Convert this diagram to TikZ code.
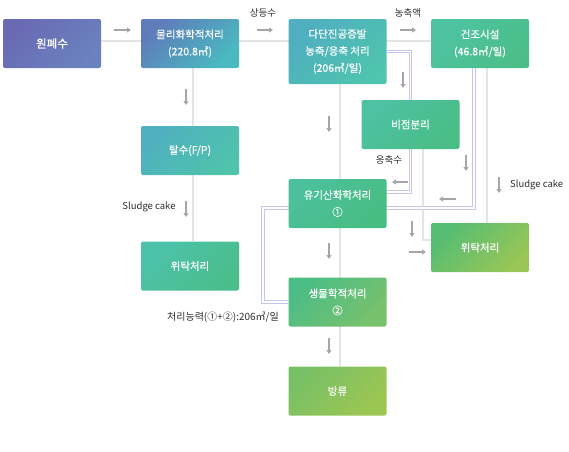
\documentclass[tikz,border=0pt]{standalone}
\usepackage{fontspec}
\setmainfont{Noto Sans CJK KR}
\newfontfamily\boxfont{Noto Sans CJK KR}[FakeBold=0.5]
\usetikzlibrary{calc,arrows.meta,backgrounds}
\definecolor{lgray}{HTML}{E4E4E4}
\definecolor{agray}{HTML}{A6A6A6}
\definecolor{lav}{HTML}{C4C7EA}
\definecolor{txt}{HTML}{2E2E2E}
\definecolor{rawA}{HTML}{6A6AB4}\definecolor{rawB}{HTML}{6A82BE}
\definecolor{physA}{HTML}{5F7CBA}\definecolor{physB}{HTML}{4ABAC0}
\definecolor{evapA}{HTML}{4FAEC0}\definecolor{evapB}{HTML}{4FC4AE}
\definecolor{dryA}{HTML}{4EC3A2}\definecolor{dryB}{HTML}{4BBE88}
\definecolor{sepA}{HTML}{4DC1A2}\definecolor{sepB}{HTML}{4ABD86}
\definecolor{dewA}{HTML}{4FB0C0}\definecolor{dewB}{HTML}{4FC3AC}
\definecolor{orgA}{HTML}{4CC09C}\definecolor{orgB}{HTML}{48BD82}
\definecolor{outRA}{HTML}{55BD74}\definecolor{outRB}{HTML}{99C656}
\definecolor{outLA}{HTML}{4CC2AA}\definecolor{outLB}{HTML}{4ABE8A}
\definecolor{bioA}{HTML}{4BBD86}\definecolor{bioB}{HTML}{78C16C}
\definecolor{disA}{HTML}{78C066}\definecolor{disB}{HTML}{9CC652}
\tikzset{
  box/.style={rounded corners=2pt,minimum width=98pt,minimum height=49pt,inner sep=0pt,
    text=white,align=center,font=\boxfont\fontsize{10.5}{17}\selectfont,
    top color=#1A,bottom color=#1B,shading angle=45},
  gline/.style={draw=lgray,line width=1.8pt},
  dbl/.style={draw=lav,double=white,double distance=1.4pt,line width=0.9pt},
  arr/.style={draw=agray,line width=1.2pt,-{Triangle[length=4pt,width=5pt]}},
  lbl/.style={text=txt,font=\fontsize{9.5}{11}\selectfont,inner sep=0pt}
}
\begin{document}
\begin{tikzpicture}[x=1pt,y=-1pt]
  \useasboundingbox (0,0) rectangle (569,451);
  \node[box=raw,font=\boxfont\fontsize{11.5}{17}\selectfont] (raw) at (52,43.5) {원폐수};
  \node[box=phys] (phys) at (190,43.5) {물리화학적처리\\(220.8㎥)};
  \node[box=evap,minimum height=65pt] (evap) at (337.5,51.5) {다단진공증발\\농축/응축 처리\\(206㎥/일)};
  \node[box=dry] (dry) at (480,43.5) {건조시설\\(46.8㎥/일)};
  \node[box=sep] (sep) at (410.5,124.5) {비점분리};
  \node[box=dew] (dew) at (190,150.5) {탈수(F/P)};
  \node[box=org] (org) at (337.5,203.5) {유기산화학처리\\①};
  \node[box=outR] (outR) at (480,247.5) {위탁처리};
  \node[box=outL] (outL) at (190,266) {위탁처리};
  \node[box=bio] (bio) at (337.5,302) {생물학적처리\\②};
  \node[box=dis] (dis) at (337.5,391) {방류};
  \coordinate (bend) at (263,208);
  \begin{scope}[on background layer]
    \draw[gline] ([yshift=2.5pt]raw.east) -- ([yshift=2.5pt]dry.west);
    \draw[gline] ([xshift=3pt]phys.south) -- ([xshift=3pt]outL.north);
    \draw[gline] ([xshift=2.5pt]evap.south) -- ([xshift=2.5pt]dis.north);
    \draw[gline] ([xshift=12.5pt]sep.south) |- ([yshift=7.5pt]outR.west);
    \draw[gline] ([xshift=7pt]dry.south) -- ([xshift=7pt]outR.north);
    \draw[dbl] (evap.east) -- ++(24,0) |- ([yshift=11.5pt]org.east);
    \draw[dbl] ([xshift=-6pt]dry.south) |- (bend) |- (bio.west);
  \end{scope}
  % small flow arrows
  \foreach \x/\y/\dx/\dy in {114/30/17/0,257/30/16/0,400/30/16/0,409/252/17/0,408/182/-16/0,456/199/-17/0,
    186/89/0/16,186/201/0/16,329/116/0/16,403/72/0/16,466/155/0/16,499/177/0/16,412/221/0/16,329/243/0/16,329/338/0/16}
    \draw[arr] (\x,\y) -- ++(\dx,\dy);
  \node[lbl] (l1) at (263,13) {상등수};
  \node[lbl] (l2) at (408,13) {농축액};
  \node[lbl] (l3) at (389,160) {응축수};
  \node[lbl] (l4) at (149,207) {Sludge cake};
  \node[lbl,anchor=west] (l5) at (510,185) {Sludge cake};
  \node[lbl,font=\fontsize{10}{11}\selectfont] (l6) at (223,317) {처리능력(①+②):206㎥/일};
\end{tikzpicture}
\end{document}
